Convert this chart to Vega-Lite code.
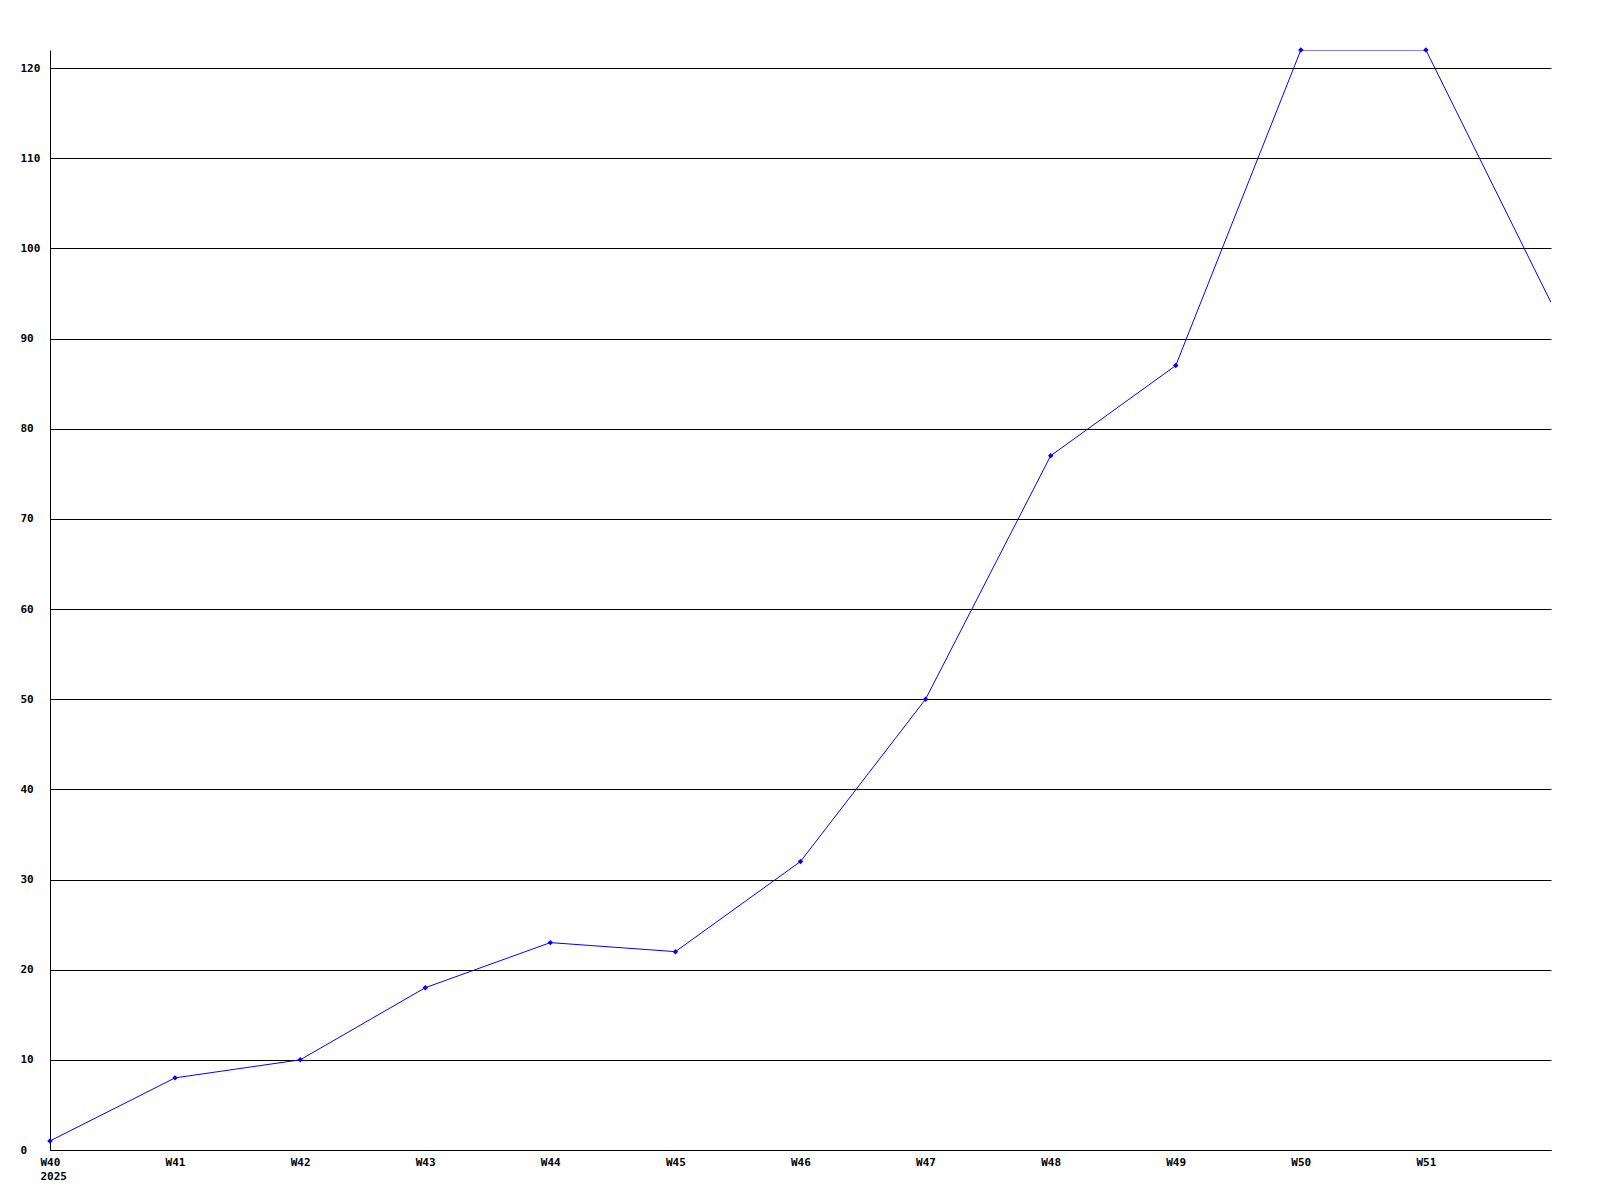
{
  "$schema": "https://vega.github.io/schema/vega-lite/v6.json",
  "width": 1501,
  "height": 1100,
  "autosize": {"type": "none"},
  "padding": {"left": 50, "top": 50, "right": 49, "bottom": 50},
  "background": "white",
  "config": {
    "view": {"stroke": null},
    "axis": {"labelFont": "DejaVu Sans Mono", "labelFontWeight": "bold", "labelFontSize": 11, "labelColor": "black", "domainColor": "black", "gridColor": "black", "gridOpacity": 1, "domainWidth": 1, "gridWidth": 1}
  },
  "data": {
    "values": [
      {"week": 40, "value": 1},
      {"week": 41, "value": 8},
      {"week": 42, "value": 10},
      {"week": 43, "value": 18},
      {"week": 44, "value": 23},
      {"week": 45, "value": 22},
      {"week": 46, "value": 32},
      {"week": 47, "value": 50},
      {"week": 48, "value": 77},
      {"week": 49, "value": 87},
      {"week": 50, "value": 122},
      {"week": 51, "value": 122},
      {"week": 52, "value": 94}
    ]
  },
  "encoding": {
    "x": {
      "field": "week", "type": "quantitative",
      "scale": {"domain": [40, 52], "nice": false, "zero": false},
      "axis": {"title": null, "values": [40,41,42,43,44,45,46,47,48,49,50,51], "grid": false, "ticks": false, "tickSize": 0, "labelPadding": 6, "labelAlign": "left", "labelOffset": -10, "labelBaseline": "top", "labelLineHeight": 14, "labelFlush": false, "labelOverlap": false,
        "labelExpr": "datum.value == 40 ? ['W40', '2025'] : 'W' + datum.value"}
    },
    "y": {
      "field": "value", "type": "quantitative",
      "scale": {"domain": [0, 122], "nice": false},
      "axis": {"title": null, "values": [0,10,20,30,40,50,60,70,80,90,100,110,120], "grid": true, "ticks": false, "tickSize": 0, "labelPadding": 30, "labelAlign": "left", "labelBaseline": "middle", "labelFlush": false, "labelOverlap": false}
    }
  },
  "layer": [
    {"mark": {"type": "line", "color": "#0000ff", "strokeWidth": 1, "clip": true}},
    {"transform": [{"filter": "datum.week < 52"}], "mark": {"type": "point", "shape": "diamond", "filled": true, "color": "#0000ff", "size": 30, "opacity": 1}}
  ]
}
